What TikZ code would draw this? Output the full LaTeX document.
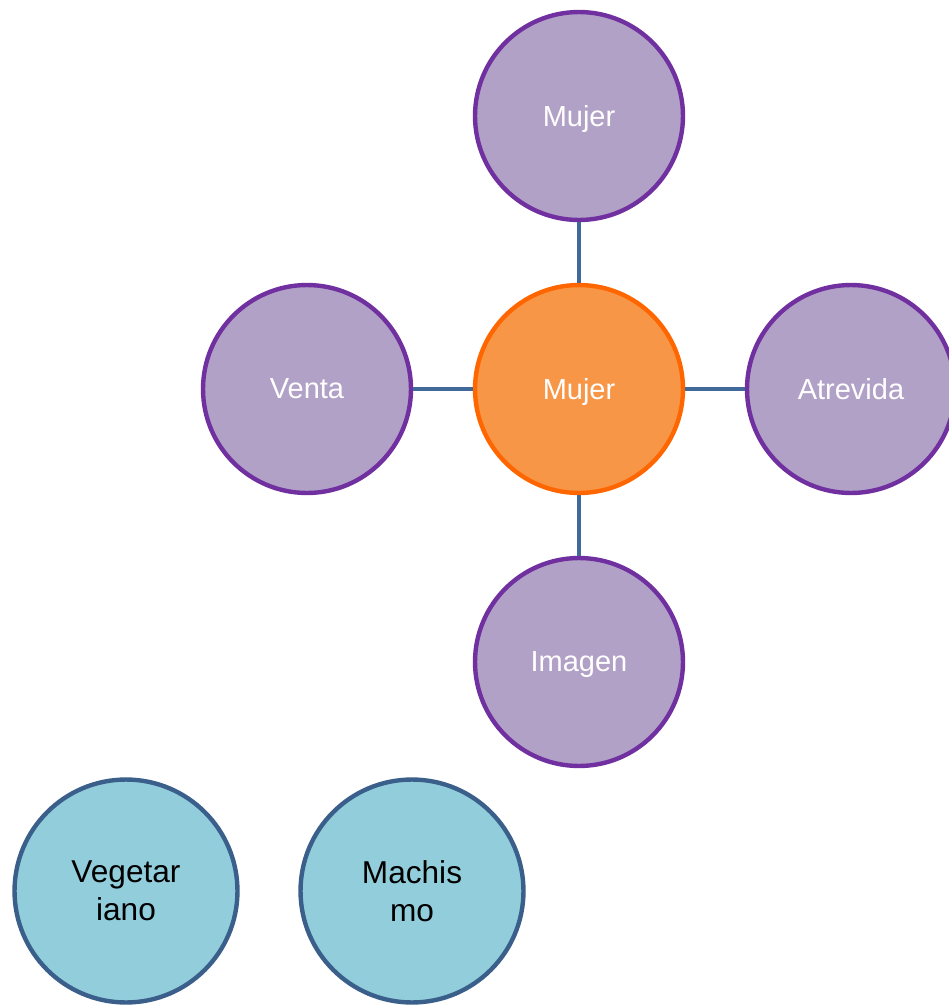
\documentclass[tikz,border=0pt]{standalone}
\usepackage{fontspec}
\setmainfont{Liberation Sans}
\usepackage{xcolor}
\definecolor{lila}{HTML}{B2A1C7}
\definecolor{lilaline}{HTML}{7030A0}
\definecolor{naranja}{HTML}{F79646}
\definecolor{naranjaline}{HTML}{FF6600}
\definecolor{celeste}{HTML}{92CDDC}
\definecolor{azul}{HTML}{3A5F8B}
\definecolor{enlace}{HTML}{41699A}

\begin{document}
\begin{tikzpicture}[x=0.02cm,y=-0.02cm, bubble/.style={circle,line width=2.5pt,minimum size=4.16cm,inner sep=0pt,text=white,text depth=0pt,font=\fontsize{16.5}{20}\selectfont}, idea/.style={circle,draw=azul,fill=celeste,line width=2.5pt,minimum size=4.46cm,inner sep=0pt,align=center,font=\fontsize{18}{21.5}\selectfont}, enl/.style={enlace,line width=2.5pt}]
  \useasboundingbox (0,0) rectangle (948,1005);
  \node[bubble,draw=naranjaline,fill=naranja] (c) at (579,389) {Mujer};
  \foreach \n/\x/\y/\t in {n/579/116/Mujer,w/307/389/Venta,e/851/389/Atrevida,s/579/662/Imagen}{
    \node[bubble,draw=lilaline,fill=lila] (\n) at (\x,\y) {\t};
    \draw[enl] (c)--(\n);
  }
  \node[idea] (veg) at (126,891) {Vegetar\\iano};
  \node[idea] (mach) at (412,891) {Machis\\mo};
\end{tikzpicture}
\end{document}
